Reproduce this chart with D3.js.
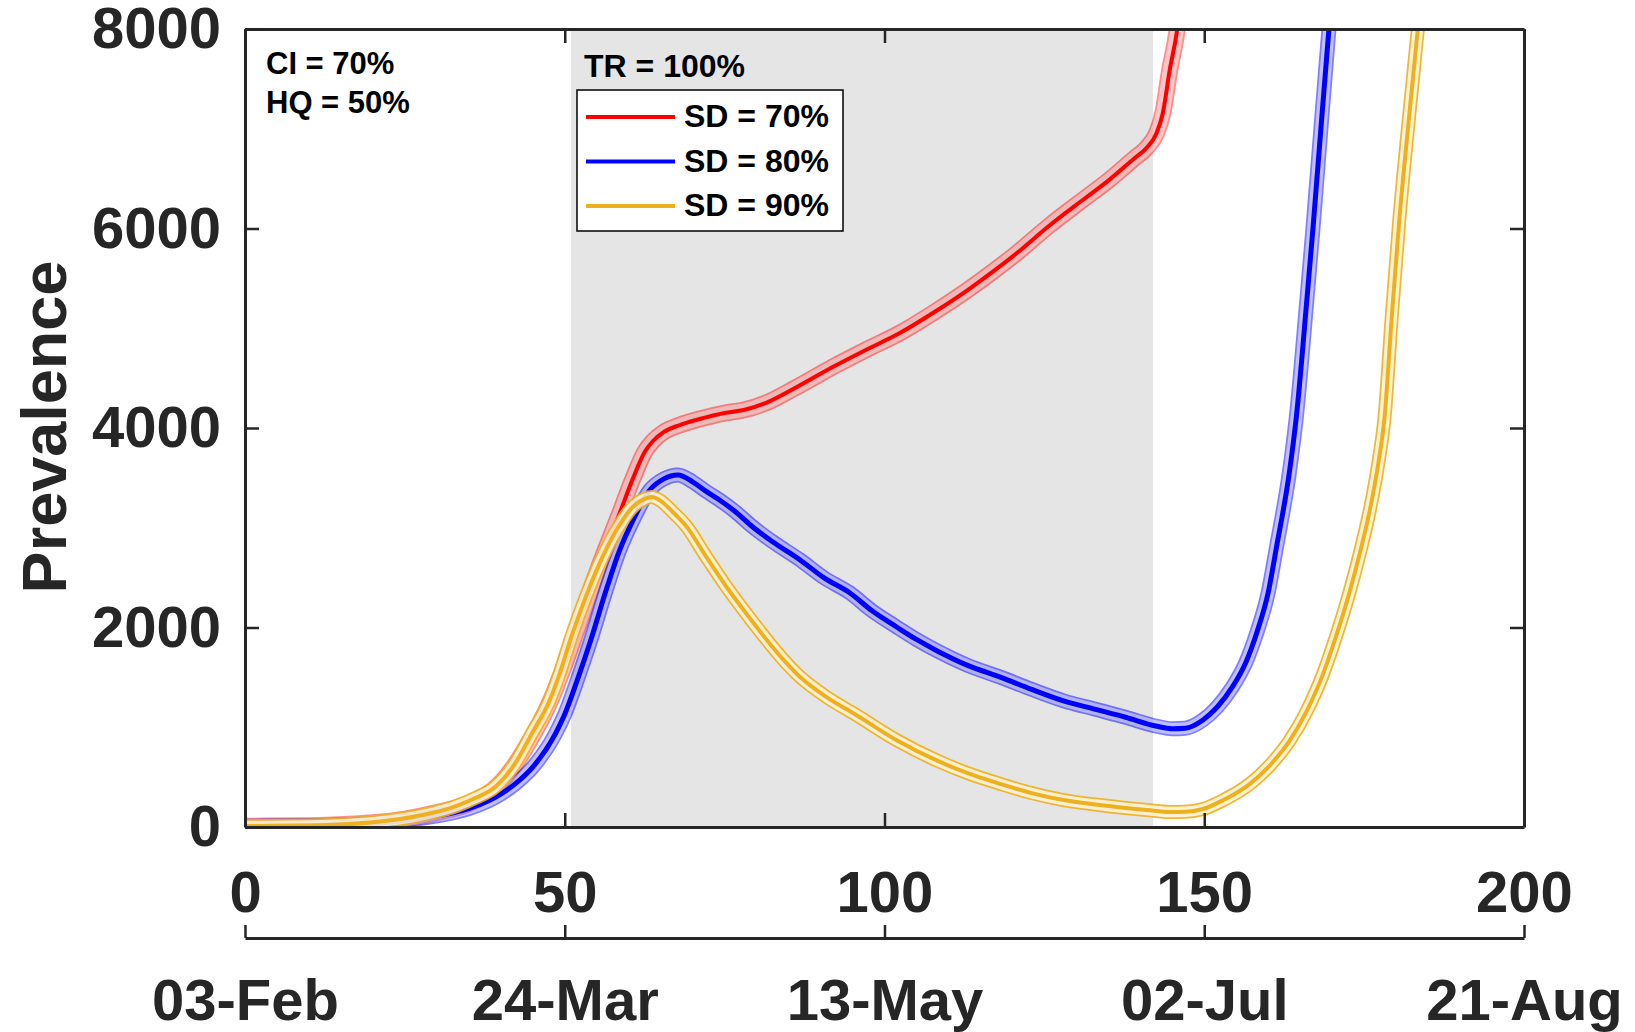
<!DOCTYPE html>
<html>
<head>
<meta charset="utf-8">
<script src="https://cdn.jsdelivr.net/npm/d3@7"></script>
<style>
    body { margin: 0; background: #fff; }
    text { font-family: "Liberation Sans", Arial, sans-serif; font-weight: bold; }
</style>
</head>
<body>
<div id="chart"></div>
<script>

// day, prevalence (mean of simulations)
const sd70 = [[0,8],[10,13],[20,42],[25,80],[30,145],[35,235],[40,445],[44,805],[48,1300],[52,1990],[55,2550],
    [58.6,3148],[60.7,3500],[62.5,3760],[63.8,3870],[65.5,3960],[68,4030],[71.1,4090],[75,4150],[78,4180],[81.6,4255],
    [86,4400],[91.9,4611],[97,4780],[102.4,4952],[108,5170],[113,5383],[117,5570],[120.7,5754],[125.8,6030],
    [131,6286],[135,6480],[139,6700],[141,6810],[142.5,6950],[143.5,7150],[144.6,7589],[145.8,8010],[147,8800]];

const sd80 = [[0,8],[10,12],[15,20],[20,35],[25,65],[30,112],[32.4,140],[35,185],[38,260],[40,330],[42.2,430],
    [45,600],[48.5,930],[50,1130],[52,1480],[54,1860],[56.6,2400],[58.5,2760],[60.7,3078],[63.3,3378],[65.5,3490],
    [67.7,3529],[70,3460],[72,3370],[74.2,3278],[76.5,3170],[79.4,3008],[82.5,2860],[86.8,2677],[90.5,2500],
    [94.6,2346],[98,2170],[101.9,2005],[105,1880],[108.4,1760],[113,1620],[118.2,1500],[123,1380],[128,1265],
    [133,1180],[137.7,1100],[142.6,1010],[145,985],[147,990],[149.8,1073],[152,1200],[154.4,1404],[156.5,1650],
    [158.2,1945],[160,2350],[161.3,2807],[163.3,3550],[164.4,4110],[166,5250],[167,6000],[168.3,7050],
    [169.5,8000],[170.5,8800]];

const sd90 = [[0,10],[10,16],[20,48],[25,88],[29.2,140],[33,210],[36,290],[39.1,401],[42,615],[44.9,942],
    [47.5,1250],[49,1500],[51,1900],[53.1,2276],[55.5,2650],[58.1,2977],[60.5,3200],[62.5,3290],[63.6,3308],
    [65,3270],[67,3150],[69.1,3008],[72,2720],[75.3,2406],[78.5,2130],[81.6,1875],[84,1690],[86.8,1504],
    [91,1300],[95.4,1130],[101.9,870],[108.4,660],[113,540],[118.2,430],[123,340],[128,270],[133,225],
    [137.7,190],[141,170],[144.6,150],[147,152],[149.8,180],[153,270],[157.1,430],[160,600],[163.3,860],
    [166,1160],[168.5,1520],[170.5,1890],[172.7,2350],[174.5,2790],[175.9,3180],[177.3,3680],[178.2,4110],
    [179.3,5100],[180.5,6085],[182,7100],[183.4,8000],[184.5,8700]];

const seriesNames = ['SD = 70%', 'SD = 80%', 'SD = 90%'];
const xTicks = [0, 50, 100, 150, 200];
const dateLabels = ['03-Feb', '24-Mar', '13-May', '02-Jul', '21-Aug'];
const yTicks = [0, 2000, 4000, 6000, 8000];
const shadeDays = [51, 142];
const notes = ['CI = 70%', 'HQ = 50%'];
const legendTitle = 'TR = 100%';


class PrevalenceVis {

    constructor(parentElement, series){
        this.parentElement = parentElement;
        this.series = series;

        this.initVis()
    }

    initVis() {
        let vis = this;

        vis.margin = {top: 29, right: 111, bottom: 205, left: 245};
        vis.width = 1635 - vis.margin.left - vis.margin.right;
        vis.height = 1032 - vis.margin.top - vis.margin.bottom;

        vis.root = d3.select("#" + vis.parentElement).append("svg")
            .attr("width", 1635)
            .attr("height", 1032);

        vis.svg = vis.root.append("g")
            .attr('transform', `translate (${vis.margin.left}, ${vis.margin.top})`);

        vis.xScale = d3.scaleLinear()
            .domain([0, 200])
            .range([0, vis.width]);

        vis.yScale = d3.scaleLinear()
            .domain([0, 8000])
            .range([vis.height, 0]);

        // intervention period
        vis.svg.append('rect')
            .attr('x', vis.xScale(shadeDays[0]))
            .attr('y', 0)
            .attr('width', vis.xScale(shadeDays[1]) - vis.xScale(shadeDays[0]))
            .attr('height', vis.height)
            .attr('fill', '#e5e5e5');

        vis.svg.append('clipPath')
            .attr('id', 'plotClip')
            .append('rect')
            .attr('width', vis.width)
            .attr('height', vis.height);

        vis.lines = vis.svg.append('g')
            .attr('clip-path', 'url(#plotClip)');

        vis.updateVis();
    }

    updateVis() {
        let vis = this;

        let line = d3.line()
            .x(d => vis.xScale(d[0]))
            .y(d => vis.yScale(d[1]))
            .curve(d3.curveMonotoneX);

        vis.series.forEach(s => {
            // confidence band: outer edge, lighter inside
            let band = vis.lines.append('g').attr('opacity', s.bandOpacity);
            band.append('path')
                .attr('d', line(s.data))
                .attr('fill', 'none')
                .attr('stroke', s.color)
                .attr('stroke-width', s.band)
                .attr('stroke-linejoin', 'round');
            band.append('path')
                .attr('d', line(s.data))
                .attr('fill', 'none')
                .attr('stroke', s.inner)
                .attr('stroke-width', s.band - 3.5)
                .attr('stroke-linejoin', 'round');

            vis.lines.append('path')
                .attr('d', line(s.data))
                .attr('fill', 'none')
                .attr('stroke', s.color)
                .attr('stroke-width', s.width);
        });

        // axes box
        let axisColor = '#262626';

        vis.svg.append('g')
            .attr('class', 'x-axis axis')
            .attr('transform', `translate (0, ${vis.height})`)
            .call(d3.axisBottom(vis.xScale).tickValues(xTicks).tickSize(-14).tickSizeOuter(0).tickPadding(44));

        vis.svg.append('g')
            .attr('class', 'axis')
            .call(d3.axisTop(vis.xScale).tickValues(xTicks).tickSize(-14).tickSizeOuter(0).tickFormat(''));

        vis.svg.append('g')
            .attr('class', 'y-axis axis')
            .call(d3.axisLeft(vis.yScale).tickValues(yTicks).tickSize(-14).tickSizeOuter(0).tickPadding(24)
                .tickFormat(d3.format('d')));

        vis.svg.append('g')
            .attr('class', 'axis')
            .attr('transform', `translate (${vis.width}, 0)`)
            .call(d3.axisRight(vis.yScale).tickValues(yTicks).tickSize(-14).tickSizeOuter(0).tickFormat(''));

        // second x axis with calendar dates
        vis.svg.append('g')
            .attr('class', 'date-axis axis')
            .attr('transform', `translate (0, ${vis.height + 111})`)
            .call(d3.axisBottom(vis.xScale).tickValues(xTicks).tickSize(-13).tickSizeOuter(0).tickPadding(41)
                .tickFormat((d, i) => dateLabels[i]));

        vis.svg.selectAll('.axis path.domain')
            .attr('stroke', axisColor)
            .attr('stroke-width', 3);
        vis.svg.selectAll('.axis .tick line')
            .attr('stroke', axisColor)
            .attr('stroke-width', 2.5);
        vis.svg.selectAll('.axis text')
            .attr('fill', axisColor)
            .style('font-size', '58px');

        vis.root.append('text')
            .attr('transform', 'translate (44, 427) rotate(-90)')
            .attr('text-anchor', 'middle')
            .attr('dominant-baseline', 'central')
            .attr('fill', axisColor)
            .style('font-size', '63px')
            .text('Prevalence');

        // annotations
        vis.root.selectAll('.note')
            .data(notes)
            .enter()
            .append('text')
            .attr('class', 'note')
            .attr('x', 266)
            .attr('y', (d, i) => 74 + i * 39)
            .style('font-size', '31px')
            .text(d => d);

        vis.root.append('text')
            .attr('x', 584)
            .attr('y', 77)
            .style('font-size', '32px')
            .text(legendTitle);

        let legend = vis.root.append('g');
        legend.append('rect')
            .attr('x', 577)
            .attr('y', 90)
            .attr('width', 266)
            .attr('height', 141)
            .attr('fill', 'white')
            .attr('stroke', 'black')
            .attr('stroke-width', 1.5);

        let items = legend.selectAll('.legendItem')
            .data(vis.series)
            .enter()
            .append('g')
            .attr('class', 'legendItem')
            .attr('transform', (d, i) => `translate (0, ${117 + i * 44.5})`);

        items.append('line')
            .attr('x1', 586)
            .attr('x2', 675)
            .attr('stroke', d => d.color)
            .attr('stroke-width', 4);

        items.append('text')
            .attr('x', 684)
            .attr('y', 2)
            .attr('dominant-baseline', 'middle')
            .style('font-size', '32px')
            .text((d, i) => seriesNames[i]);
    }
}

let series = [
    {data: sd70, color: '#ff0000', inner: '#ff8080', band: 17, bandOpacity: 0.45, width: 4},
    {data: sd80, color: '#0000ff', inner: '#8080ff', band: 15, bandOpacity: 0.5, width: 5},
    {data: sd90, color: '#edb120', inner: '#fff1cf', band: 14, bandOpacity: 0.9, width: 4}
];

let prevalenceVis = new PrevalenceVis('chart', series);

</script>
</body>
</html>
